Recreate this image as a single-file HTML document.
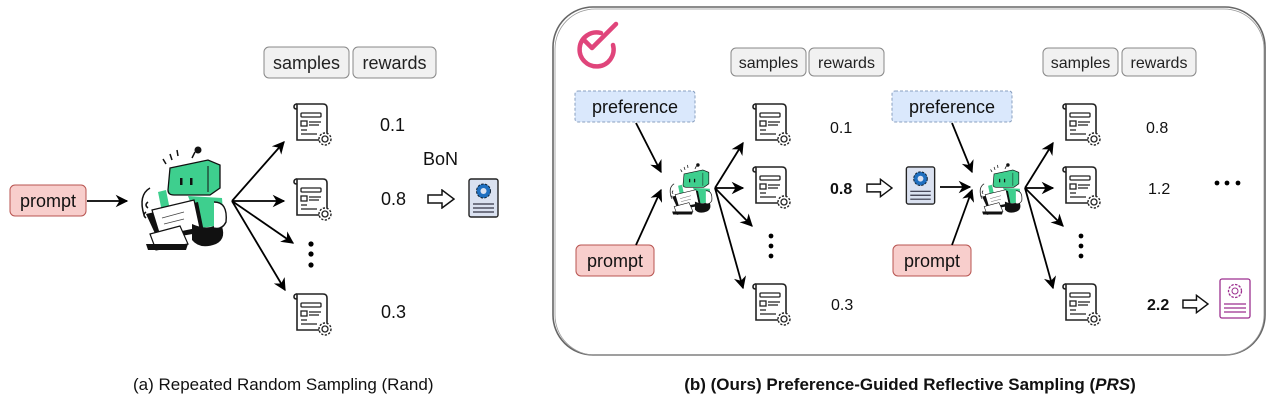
<!DOCTYPE html>
<html><head><meta charset="utf-8"><style>
body{margin:0;background:#fff;}
svg{display:block;font-family:"Liberation Sans",Arial,sans-serif;}
</style></head><body>
<svg width="1270" height="411" viewBox="0 0 1270 411" xmlns="http://www.w3.org/2000/svg">
<defs>
<marker id="ah" viewBox="0 0 10 10" refX="9" refY="5" markerWidth="7" markerHeight="7" orient="auto"><path d="M0,0 L10,5 L0,10 L3,5 z" fill="#000"/></marker>
<symbol id="doc" viewBox="0 0 40 48">
<path d="M4,4 H30 Q34,4 34,8 V40 H4 Z" fill="#fff" stroke="#222" stroke-width="1.6"/>
<path d="M4,4 Q1,4 1,7 Q1,9 4,9" fill="none" stroke="#222" stroke-width="1.6"/>
<rect x="8" y="13" width="20" height="4" rx="1" fill="none" stroke="#222" stroke-width="1.3"/>
<rect x="8" y="21" width="6" height="5" fill="none" stroke="#222" stroke-width="1.3"/>
<path d="M16,22 H28 M16,25 H26 M8,30 H14 M8,34 H24" stroke="#222" stroke-width="1.3"/>
<circle cx="32" cy="39" r="6" fill="#fff" stroke="#222" stroke-width="1.4" stroke-dasharray="2.2 1.5"/>
<circle cx="32" cy="39" r="3" fill="#fff" stroke="#222" stroke-width="1.3"/>
</symbol>
<symbol id="robot" viewBox="0 0 100 115">
<path d="M20,48 Q8,55 14,75 M18,62 q-4,3 0,6 M16,72 q-4,3 0,6" fill="none" stroke="#111" stroke-width="1.5"/>
<path d="M42,20 l-2,-6 M48,16 l-1,-6 M36,24 l-3,-5" stroke="#111" stroke-width="1.5"/>
<path d="M62,18 l3,-6" stroke="#111" stroke-width="1.5"/><circle cx="68" cy="10" r="3.5" fill="#111"/>
<path d="M40,28 L78,20 L90,25 L90,48 L80,55 L44,55 Q38,55 38,50 Z" fill="#3ecf8e" stroke="#111" stroke-width="1.3"/>
<path d="M78,26 V52" stroke="#111" stroke-width="1"/>
<rect x="50" y="38" width="2.5" height="7" fill="#111"/><rect x="60" y="38" width="2.5" height="7" fill="#111"/>
<path d="M58,56 L92,58 L94,85 L70,88 Z" fill="#3ecf8e"/>
<path d="M28,52 L36,50 L40,70 L32,72 Z" fill="#3ecf8e"/>
<path d="M16,74 L68,62 L74,92 L28,100 Z" fill="#111"/>
<path d="M22,70 L64,60 L70,88 L30,96 Z" fill="#fff" stroke="#111" stroke-width="1.2"/>
<path d="M32,78 l22,-6 M34,84 l20,-5" stroke="#444" stroke-width="0.8"/>
<path d="M20,94 L50,86 L58,104 L26,110 Z" fill="#fff" stroke="#111" stroke-width="1.2"/>
<path d="M16,104 L58,104 L56,110 L18,110 Z" fill="#111"/>
<path d="M62,84 Q80,92 90,82 Q98,98 86,104 Q70,110 62,100 Z" fill="#111"/>
<path d="M84,62 Q98,62 96,82 Q92,90 84,88" fill="#fff" stroke="#111" stroke-width="1.4"/>
</symbol>
<symbol id="hollow" viewBox="0 0 28 20"><path d="M1,6 H15 V1 L27,10 L15,19 V14 H1 Z" fill="#fff" stroke="#111" stroke-width="1.5"/></symbol>
<symbol id="bdoc" viewBox="0 0 31 40"><rect x="1" y="1" width="29" height="38" rx="2" fill="#dae1f0" stroke="#222" stroke-width="1.4"/>
<circle cx="15.5" cy="13" r="7" fill="#1f6fc0" stroke="#123" stroke-width="1" stroke-dasharray="2.5 1.3"/><circle cx="15.5" cy="13" r="3" fill="#dae1f0"/>
<path d="M5,26 H26 M5,30 H26 M5,34 H26" stroke="#334" stroke-width="1.2"/></symbol>
</defs>

<!-- Left panel -->
<rect x="264" y="47" width="85" height="31" rx="5" fill="#f1f1f1" stroke="#888"/>
<text x="306.5" y="69" font-size="18" text-anchor="middle" fill="#222">samples</text>
<rect x="353" y="47" width="83" height="31" rx="5" fill="#f1f1f1" stroke="#888"/>
<text x="394.5" y="69" font-size="18" text-anchor="middle" fill="#222">rewards</text>
<rect x="10" y="185" width="76" height="31" rx="5" fill="#f8cecc" stroke="#b85450"/>
<text x="48" y="207" font-size="18" text-anchor="middle" fill="#111">prompt</text>
<line x1="87" y1="201" x2="127" y2="201" stroke="#000" stroke-width="1.8" marker-end="url(#ah)"/>
<use href="#robot" x="130" y="140" width="100" height="115"/>
<g stroke="#000" stroke-width="1.8" marker-end="url(#ah)">
<line x1="232" y1="201" x2="284" y2="142"/><line x1="232" y1="201" x2="284" y2="201"/>
<line x1="232" y1="201" x2="293" y2="243"/><line x1="232" y1="201" x2="285" y2="290"/></g>
<use href="#doc" x="293" y="100" width="40" height="48"/>
<use href="#doc" x="293" y="175" width="40" height="48"/>
<use href="#doc" x="293" y="290" width="40" height="48"/>
<circle cx="311" cy="244" r="2.6"/><circle cx="311" cy="254" r="2.6"/><circle cx="311" cy="265" r="2.6"/>
<g font-size="18" fill="#111"><text x="380" y="131">0.1</text><text x="381" y="205">0.8</text><text x="381" y="318">0.3</text><text x="423" y="165">BoN</text></g>
<use href="#hollow" x="427" y="189" width="28" height="20"/>
<use href="#bdoc" x="468" y="178" width="31" height="40"/>
<text x="133" y="390" font-size="17" fill="#111">(a) Repeated Random Sampling (Rand)</text>

<!-- Right panel -->
<rect x="553" y="7" width="712" height="348" rx="40" fill="none" stroke="#666" stroke-width="1.6"/>
<rect x="555" y="9" width="709" height="346" rx="40" fill="none" stroke="#999" stroke-width="0.8"/>
<path d="M601,33 A17,17 0 1 0 613,45" fill="none" stroke="#e0457b" stroke-width="4.5" stroke-linecap="round"/>
<path d="M584,40 L592,48 L616,24" fill="none" stroke="#e0457b" stroke-width="4.5" stroke-linecap="round" stroke-linejoin="round"/>

<g font-size="16" fill="#222" text-anchor="middle">
<rect x="731" y="48" width="75" height="28" rx="5" fill="#f1f1f1" stroke="#888"/><text x="768.5" y="68">samples</text>
<rect x="809" y="48" width="75" height="28" rx="5" fill="#f1f1f1" stroke="#888"/><text x="846.5" y="68">rewards</text>
<rect x="1043" y="48" width="75" height="28" rx="5" fill="#f1f1f1" stroke="#888"/><text x="1080.5" y="68">samples</text>
<rect x="1122" y="48" width="74" height="28" rx="5" fill="#f1f1f1" stroke="#888"/><text x="1159" y="68">rewards</text>
</g>
<g font-size="18" fill="#111" text-anchor="middle">
<rect x="575" y="91" width="120" height="31" rx="3" fill="#dae8fc" stroke="#8aa0c0" stroke-dasharray="3 2"/><text x="635" y="113">preference</text>
<rect x="892" y="91" width="120" height="31" rx="3" fill="#dae8fc" stroke="#8aa0c0" stroke-dasharray="3 2"/><text x="952" y="113">preference</text>
<rect x="576" y="245" width="78" height="31" rx="5" fill="#f8cecc" stroke="#b85450"/><text x="615" y="267">prompt</text>
<rect x="893" y="245" width="78" height="31" rx="5" fill="#f8cecc" stroke="#b85450"/><text x="932" y="267">prompt</text>
</g>
<use href="#robot" x="664" y="160" width="50" height="57"/>
<use href="#robot" x="974" y="160" width="50" height="57"/>
<g stroke="#000" stroke-width="1.8" marker-end="url(#ah)">
<line x1="636" y1="123" x2="661" y2="172"/><line x1="636" y1="245" x2="661" y2="190"/>
<line x1="715" y1="188" x2="743" y2="143"/><line x1="715" y1="188" x2="743" y2="188"/>
<line x1="715" y1="188" x2="752" y2="226"/><line x1="715" y1="188" x2="743" y2="288"/>
<line x1="952" y1="123" x2="972" y2="172"/><line x1="952" y1="245" x2="972" y2="190"/>
<line x1="940" y1="187" x2="970" y2="187"/>
<line x1="1025" y1="188" x2="1053" y2="143"/><line x1="1025" y1="188" x2="1053" y2="188"/>
<line x1="1025" y1="188" x2="1063" y2="226"/><line x1="1025" y1="188" x2="1053" y2="288"/>
</g>
<use href="#doc" x="752" y="100" width="40" height="48"/>
<use href="#doc" x="752" y="163" width="40" height="48"/>
<use href="#doc" x="752" y="280" width="40" height="48"/>
<use href="#doc" x="1062" y="100" width="40" height="48"/>
<use href="#doc" x="1062" y="163" width="40" height="48"/>
<use href="#doc" x="1062" y="280" width="40" height="48"/>
<circle cx="771" cy="236" r="2.4"/><circle cx="771" cy="246" r="2.4"/><circle cx="771" cy="256" r="2.4"/>
<circle cx="1081" cy="236" r="2.4"/><circle cx="1081" cy="246" r="2.4"/><circle cx="1081" cy="256" r="2.4"/>
<circle cx="1217" cy="183" r="2.4"/><circle cx="1227" cy="183" r="2.4"/><circle cx="1238" cy="183" r="2.4"/>
<g font-size="16" fill="#111">
<text x="830" y="133">0.1</text><text x="830" y="194" font-weight="bold">0.8</text><text x="831" y="310">0.3</text>
<text x="1146" y="133">0.8</text><text x="1148" y="194">1.2</text><text x="1147" y="310" font-weight="bold">2.2</text>
</g>
<use href="#hollow" x="866" y="178" width="27" height="20"/>
<use href="#bdoc" x="905" y="166" width="31" height="39"/>
<use href="#hollow" x="1182" y="294" width="27" height="20"/>
<rect x="1220" y="279" width="30" height="39" rx="2" fill="#fff" stroke="#9c2f8f" stroke-width="1.3"/>
<circle cx="1235" cy="291" r="6.5" fill="none" stroke="#9c2f8f" stroke-width="1.3" stroke-dasharray="2.5 1.3"/><circle cx="1235" cy="291" r="3" fill="none" stroke="#9c2f8f"/>
<path d="M1224,304 H1246 M1224,308 H1246 M1224,312 H1246" stroke="#9c2f8f" stroke-width="1.2"/>
<text x="910" y="390" font-size="17" font-weight="bold" fill="#111" text-anchor="middle">(b) (Ours) Preference-Guided Reflective Sampling (<tspan font-style="italic">PRS</tspan>)</text>
</svg>
</body></html>
